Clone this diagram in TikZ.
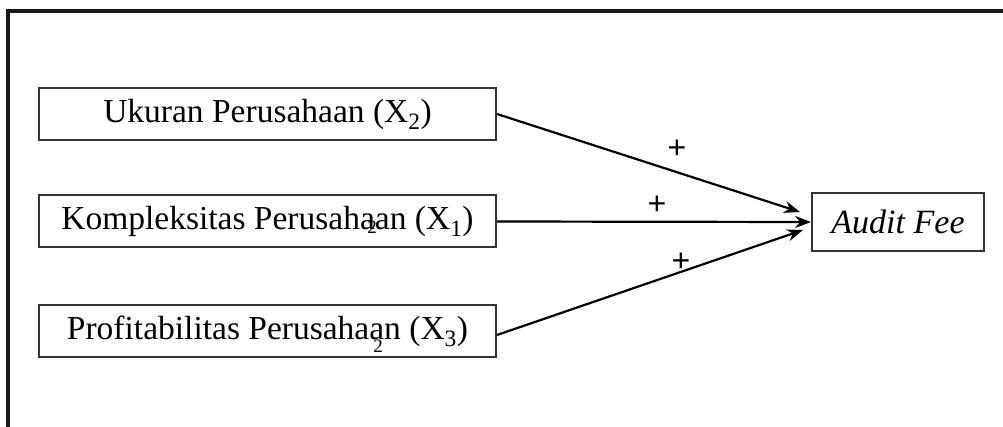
\documentclass[tikz,border=0pt]{standalone}
\usepackage{fontspec}
\setmainfont{Liberation Serif}
\newfontfamily\plusfont{Liberation Sans}
\usetikzlibrary{arrows.meta}
\tikzset{
  varbox/.style={draw=black!80, line width=2pt, minimum width=457pt, minimum height=52pt, inner sep=0pt, font=\fontsize{33.5}{36}\selectfont},
  depbox/.style={draw=black!80, line width=2pt, minimum width=172pt, minimum height=58pt, inner sep=0pt, font=\fontsize{34}{38}\selectfont\itshape},
  link/.style={line width=2.2pt, -{Stealth[length=16pt,width=12pt]}},
  plus/.style={font=\plusfont\fontsize{32}{34}\selectfont, inner sep=0pt},
  stray/.style={font=\fontsize{19}{20}\selectfont, inner sep=0pt}
}
\begin{document}
\begin{tikzpicture}[x=1pt,y=-1pt]
\useasboundingbox (0,0) rectangle (1003,427);
\draw[line width=3.5pt, black!90] (8,440) -- (8,11) -- (1010,11);
\node[varbox] (x2) at (267.5,114) {Ukuran Perusahaan (X\textsubscript{2})};
\node[varbox] (x1) at (267.5,221.5) {Kompleksitas Perusahaan (X\textsubscript{1})};
\node[varbox] (x3) at (267.5,331) {Profitabilitas Perusahaan (X\textsubscript{3})};
\node[depbox] (y) at (898,222) {Audit Fee};
\coordinate (t2) at (800,212);
\coordinate (t3) at (803,230);
\draw[link] (x2.east) -- (t2);
\draw[link] (x1.east) -- (y.west);
\draw[link] ([yshift=-4pt]x3.east) -- (t3);
\node[plus] (p2) at (677,149) {+};
\node[plus] (p1) at (657,205) {+};
\node[plus] (p3) at (681,262) {+};
\node[stray] (s1) at (372,227) {2};
\node[stray] (s2) at (378,346) {2};
\end{tikzpicture}
\end{document}
